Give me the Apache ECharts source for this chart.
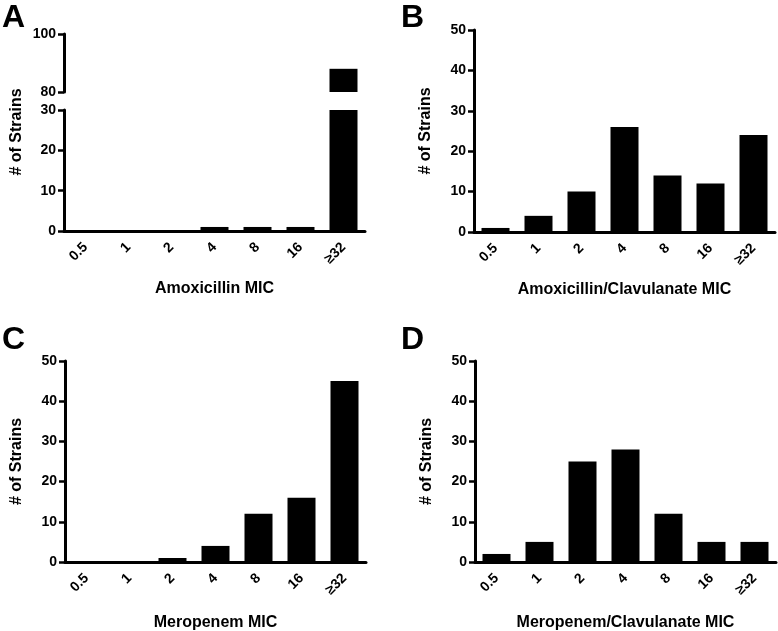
<!DOCTYPE html>
<html>
<head>
    <meta charset="utf-8">
    <title>MIC distributions</title>
    <style>
        body {
            margin: 0;
            padding: 0;
            background-color: #fff;
        }
        #chart {
            width: 778px;
            height: 631px;
        }
    </style>
</head>
<body>
    <div id="chart"></div>

    <script src="https://cdn.jsdelivr.net/npm/echarts@6/dist/echarts.min.js"></script>
    <script>
        // data
        const categories = ['0.5', '1', '2', '4', '8', '16', '≥32'];
        const amoxValues = [0, 0, 0, 1, 1, 1, 88];
        const amoxClavValues = [1, 4, 10, 26, 14, 12, 24];
        const meroValues = [0, 0, 1, 4, 12, 16, 45];
        const meroClavValues = [2, 5, 25, 28, 12, 5, 5];

        const panelLetters = ['A', 'B', 'C', 'D'];
        const xNames = ['Amoxicillin MIC', 'Amoxicillin/Clavulanate MIC', 'Meropenem MIC', 'Meropenem/Clavulanate MIC'];
        const yName = '# of Strains';

        const font = "'Liberation Sans', Arial, sans-serif";
        const textBold = { fontFamily: font, fontWeight: 'bold', color: '#000' };

        function xAxisFor(gridIndex, name, visible, gap) {
            return {
                type: 'category',
                gridIndex: gridIndex,
                data: categories,
                show: visible,
                name: name,
                nameLocation: 'middle',
                nameGap: gap,
                nameTextStyle: Object.assign({ fontSize: 16 }, textBold),
                axisLine: { lineStyle: { color: '#000', width: 3 } },
                axisTick: { alignWithLabel: true, length: 6, lineStyle: { color: '#000', width: 2.5 } },
                axisLabel: Object.assign({ rotate: 45, margin: 14, interval: 0, fontSize: 14 }, textBold)
            };
        }

        function yAxisFor(gridIndex, min, max, interval, name) {
            return {
                type: 'value',
                gridIndex: gridIndex,
                min: min,
                max: max,
                interval: interval,
                name: name,
                nameLocation: 'middle',
                nameGap: 40,
                nameTextStyle: Object.assign({ fontSize: 16 }, textBold),
                axisLine: { show: true, lineStyle: { color: '#000', width: 3 } },
                axisTick: { show: true, length: 6, lineStyle: { color: '#000', width: 2.5 } },
                axisLabel: Object.assign({ margin: 8, fontSize: 14 }, textBold),
                splitLine: { show: false }
            };
        }

        function barsFor(index, values) {
            return {
                type: 'bar',
                xAxisIndex: index,
                yAxisIndex: index,
                data: values,
                barWidth: 28,
                clip: true,
                itemStyle: { color: '#000' },
                silent: true
            };
        }

        const chart = echarts.init(document.getElementById('chart'));

        const option = {
            animation: false,
            title: [
                { text: panelLetters[0], left: 2, top: 2 },
                { text: panelLetters[1], left: 401, top: 2 },
                { text: panelLetters[2], left: 2, top: 324 },
                { text: panelLetters[3], left: 401, top: 324 }
            ].map(t => Object.assign(t, { padding: 0, textStyle: Object.assign({ fontSize: 32 }, textBold) })),
            grid: [
                // A is split in two to show the broken axis
                { left: 64, top: 34, width: 301, height: 58, outerBoundsMode: 'none' },
                { left: 64, top: 110, width: 301, height: 121, outerBoundsMode: 'none' },
                { left: 474, top: 30, width: 301, height: 202, outerBoundsMode: 'none' },
                { left: 65, top: 361, width: 301, height: 201, outerBoundsMode: 'none' },
                { left: 475, top: 361, width: 301, height: 201, outerBoundsMode: 'none' }
            ],
            xAxis: [
                xAxisFor(0, '', false, 0),
                xAxisFor(1, xNames[0], true, 50),
                xAxisFor(2, xNames[1], true, 50),
                xAxisFor(3, xNames[2], true, 53),
                xAxisFor(4, xNames[3], true, 53)
            ],
            yAxis: [
                yAxisFor(0, 80, 100, 20, ''),
                yAxisFor(1, 0, 30, 10, ''),
                yAxisFor(2, 0, 50, 10, yName),
                yAxisFor(3, 0, 50, 10, yName),
                yAxisFor(4, 0, 50, 10, yName)
            ],
            graphic: [
                {
                    // shared y title for the split panel A
                    type: 'text',
                    x: 17,
                    y: 132,
                    rotation: Math.PI / 2,
                    style: {
                        text: yName,
                        font: 'bold 16px ' + font,
                        fill: '#000',
                        align: 'center',
                        verticalAlign: 'middle'
                    }
                }
            ],
            series: [
                barsFor(0, amoxValues),
                barsFor(1, amoxValues),
                barsFor(2, amoxClavValues),
                barsFor(3, meroValues),
                barsFor(4, meroClavValues)
            ]
        };

        chart.setOption(option);
    </script>
</body>
</html>
